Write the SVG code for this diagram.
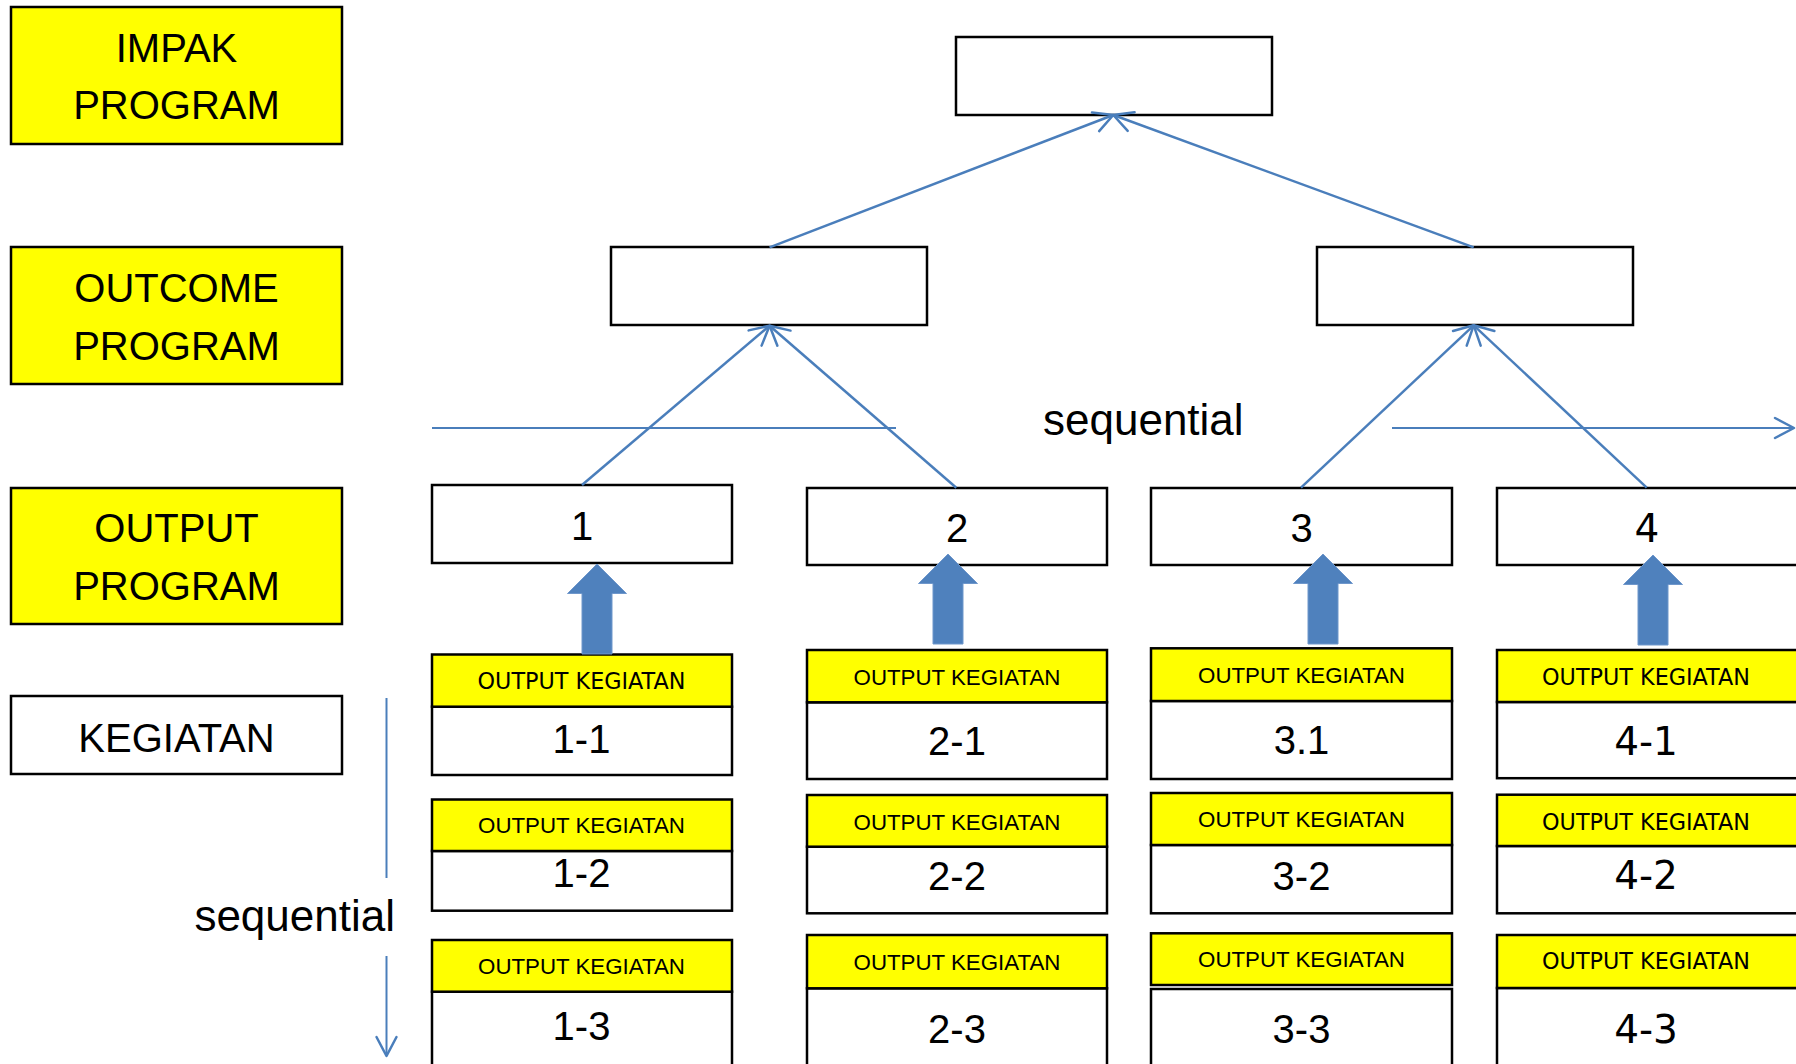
<svg xmlns="http://www.w3.org/2000/svg" width="1796" height="1064" viewBox="0 0 1796 1064">
  <defs>
    <style>
      .box { fill: #FFFFFF; stroke: #000000; stroke-width: 2.5; }
      .hl { fill: #FFFF00; stroke: #000000; stroke-width: 2.5; }
      .lbl { font-family: "Liberation Sans", Arial, sans-serif; font-size: 40px; fill: #000000; text-anchor: middle; }
      .num { font-family: "Liberation Sans", Arial, sans-serif; font-size: 40px; fill: #000000; text-anchor: middle; }
      .numw { font-family: "DejaVu Sans", Verdana, sans-serif; font-size: 39px; fill: #000000; text-anchor: middle; }
      .hdr { font-family: "Liberation Sans", Arial, sans-serif; font-size: 22.3px; fill: #000000; text-anchor: middle; }
      .hdrw { font-family: "DejaVu Sans", Verdana, sans-serif; font-size: 22.3px; fill: #000000; text-anchor: middle; }
      .seq { font-family: "Liberation Sans", Arial, sans-serif; font-size: 44px; fill: #000000; }
      .link { stroke: #4A7EBB; stroke-width: 2.5; fill: none; }
      .thin { stroke: #4A7EBB; stroke-width: 2; fill: none; }
      .block { fill: #4F81BD; stroke: #6F97CB; stroke-width: 1; }
    </style>
    <marker id="open" markerUnits="userSpaceOnUse" viewBox="-22 -12 24 24" refX="0" refY="0" markerWidth="24" markerHeight="24" orient="auto" overflow="visible">
      <path d="M-19,-10 L0,0 L-19,10" fill="none" stroke="#4A7EBB" stroke-width="2.5" stroke-linejoin="round" stroke-linecap="round"/>
    </marker>
    <!-- block arrow, tip at origin -->
    <path id="block-up" d="M0,0 L29.5,29.5 L15,29.5 L15,90 L-15,90 L-15,29.5 L-29.5,29.5 Z"/>
  </defs>

  <rect width="1796" height="1064" fill="#FFFFFF"/>

  <!-- level labels -->
  <g id="label-impak">
    <rect class="hl" x="11" y="7" width="331" height="137"/>
    <text class="lbl" x="176.5" y="62">IMPAK</text>
    <text class="lbl" x="176.5" y="119">PROGRAM</text>
  </g>
  <g id="label-outcome">
    <rect class="hl" x="11" y="247" width="331" height="137"/>
    <text class="lbl" x="176.5" y="302">OUTCOME</text>
    <text class="lbl" x="176.5" y="360">PROGRAM</text>
  </g>
  <g id="label-output">
    <rect class="hl" x="11" y="488" width="331" height="136"/>
    <text class="lbl" x="176.5" y="542">OUTPUT</text>
    <text class="lbl" x="176.5" y="600">PROGRAM</text>
  </g>
  <g id="label-kegiatan">
    <rect class="box" x="11" y="696" width="331" height="78"/>
    <text class="lbl" x="176.5" y="752">KEGIATAN</text>
  </g>

  <!-- impact and outcome boxes -->
  <g id="impak"><rect class="box" x="956" y="37" width="316" height="78"/></g>
  <g id="outcome-1"><rect class="box" x="611" y="247" width="316" height="78"/></g>
  <g id="outcome-2"><rect class="box" x="1317" y="247" width="316" height="78"/></g>

  <!-- program outputs -->
  <g id="output-1">
    <rect class="box" x="432" y="485" width="300" height="78"/>
    <text class="num" x="582" y="540">1</text>
  </g>
  <g id="output-2">
    <rect class="box" x="807" y="488" width="300" height="77"/>
    <text class="num" x="957" y="542">2</text>
  </g>
  <g id="output-3">
    <rect class="box" x="1151" y="488" width="301" height="77"/>
    <text class="num" x="1301.5" y="542">3</text>
  </g>
  <g id="output-4">
    <rect class="box" x="1497" y="488" width="302" height="77"/>
    <text class="numw" x="1647" y="542">4</text>
  </g>

  <!-- activities, column 1 -->
  <g id="kegiatan-1-1">
    <rect class="box" x="432" y="706.7" width="300" height="68.3"/>
    <rect class="hl" x="432" y="654.5" width="300" height="52.2"/>
    <text class="hdrw" x="581.5" y="689">OUTPUT KEGIATAN</text>
    <text class="num" x="581.5" y="752.7">1-1</text>
  </g>
  <g id="kegiatan-1-2">
    <rect class="box" x="432" y="851" width="300" height="59.7"/>
    <rect class="hl" x="432" y="799.5" width="300" height="51.5"/>
    <text class="hdr" x="581.5" y="833.3">OUTPUT KEGIATAN</text>
    <text class="num" x="581.5" y="886.7">1-2</text>
  </g>
  <g id="kegiatan-1-3">
    <rect class="box" x="432" y="991.7" width="300" height="90"/>
    <rect class="hl" x="432" y="940" width="300" height="51.7"/>
    <text class="hdr" x="581.5" y="974.3">OUTPUT KEGIATAN</text>
    <text class="num" x="581.5" y="1040">1-3</text>
  </g>

  <!-- activities, column 2 -->
  <g id="kegiatan-2-1">
    <rect class="box" x="807" y="702.3" width="300" height="76.7"/>
    <rect class="hl" x="807" y="650" width="300" height="52.3"/>
    <text class="hdr" x="957" y="685">OUTPUT KEGIATAN</text>
    <text class="num" x="957" y="755">2-1</text>
  </g>
  <g id="kegiatan-2-2">
    <rect class="box" x="807" y="846.7" width="300" height="66.6"/>
    <rect class="hl" x="807" y="795" width="300" height="51.7"/>
    <text class="hdr" x="957" y="830">OUTPUT KEGIATAN</text>
    <text class="num" x="957" y="890">2-2</text>
  </g>
  <g id="kegiatan-2-3">
    <rect class="box" x="807" y="988.3" width="300" height="90"/>
    <rect class="hl" x="807" y="935" width="300" height="53.3"/>
    <text class="hdr" x="957" y="970">OUTPUT KEGIATAN</text>
    <text class="num" x="957" y="1042.7">2-3</text>
  </g>

  <!-- activities, column 3 -->
  <g id="kegiatan-3-1">
    <rect class="box" x="1151" y="701" width="301" height="78"/>
    <rect class="hl" x="1151" y="648.3" width="301" height="52.7"/>
    <text class="hdr" x="1301.5" y="682.7">OUTPUT KEGIATAN</text>
    <text class="num" x="1301.5" y="754.3">3.1</text>
  </g>
  <g id="kegiatan-3-2">
    <rect class="box" x="1151" y="845" width="301" height="68.3"/>
    <rect class="hl" x="1151" y="793" width="301" height="52"/>
    <text class="hdr" x="1301.5" y="827.3">OUTPUT KEGIATAN</text>
    <text class="num" x="1301.5" y="890">3-2</text>
  </g>
  <g id="kegiatan-3-3">
    <rect class="box" x="1151" y="989" width="301" height="90"/>
    <rect class="hl" x="1151" y="933.3" width="301" height="51.7"/>
    <text class="hdr" x="1301.5" y="966.7">OUTPUT KEGIATAN</text>
    <text class="num" x="1301.5" y="1042.7">3-3</text>
  </g>

  <!-- activities, column 4 -->
  <g id="kegiatan-4-1">
    <rect class="box" x="1497" y="702" width="302" height="76.2"/>
    <rect class="hl" x="1497" y="650" width="302" height="52"/>
    <text class="hdrw" x="1646" y="685">OUTPUT KEGIATAN</text>
    <text class="numw" x="1646" y="755">4-1</text>
  </g>
  <g id="kegiatan-4-2">
    <rect class="box" x="1497" y="846" width="302" height="67.3"/>
    <rect class="hl" x="1497" y="794.7" width="302" height="51.3"/>
    <text class="hdrw" x="1646" y="830">OUTPUT KEGIATAN</text>
    <text class="numw" x="1646" y="889.2">4-2</text>
  </g>
  <g id="kegiatan-4-3">
    <rect class="box" x="1497" y="988" width="302" height="90"/>
    <rect class="hl" x="1497" y="935" width="302" height="53"/>
    <text class="hdrw" x="1646" y="968.8">OUTPUT KEGIATAN</text>
    <text class="numw" x="1646" y="1043">4-3</text>
  </g>

  <!-- sequence labels -->
  <g id="seq-horizontal">
    <text class="seq" x="1043" y="435">sequential</text>
  </g>
  <g id="seq-vertical">
    <text class="seq" x="395" y="931" text-anchor="end">sequential</text>
  </g>

  <!-- connectors -->
  <g id="connectors">
    <line class="link" x1="769.6" y1="247.3" x2="1113.3" y2="115" marker-end="url(#open)"/>
    <line class="link" x1="1473.7" y1="247.3" x2="1113.3" y2="115" marker-end="url(#open)"/>
    <line class="link" x1="582" y1="485" x2="769.6" y2="325.7" marker-end="url(#open)"/>
    <line class="link" x1="956.3" y1="487.7" x2="769.6" y2="325.7" marker-end="url(#open)"/>
    <line class="link" x1="1301" y1="487.7" x2="1473.7" y2="325.3" marker-end="url(#open)"/>
    <line class="link" x1="1646.7" y1="487.7" x2="1473.7" y2="325.3" marker-end="url(#open)"/>

    <line class="thin" x1="432" y1="428" x2="896" y2="428"/>
    <line class="thin" x1="1392" y1="428" x2="1794" y2="428" marker-end="url(#open)"/>
    <line class="thin" x1="386.5" y1="698" x2="386.5" y2="878"/>
    <line class="thin" x1="386.5" y1="956" x2="386.5" y2="1056" marker-end="url(#open)"/>

    <use href="#block-up" class="block" transform="translate(597 564)"/>
    <use href="#block-up" class="block" transform="translate(948 554)"/>
    <use href="#block-up" class="block" transform="translate(1323 554)"/>
    <use href="#block-up" class="block" transform="translate(1653 555)"/>
  </g>
</svg>
